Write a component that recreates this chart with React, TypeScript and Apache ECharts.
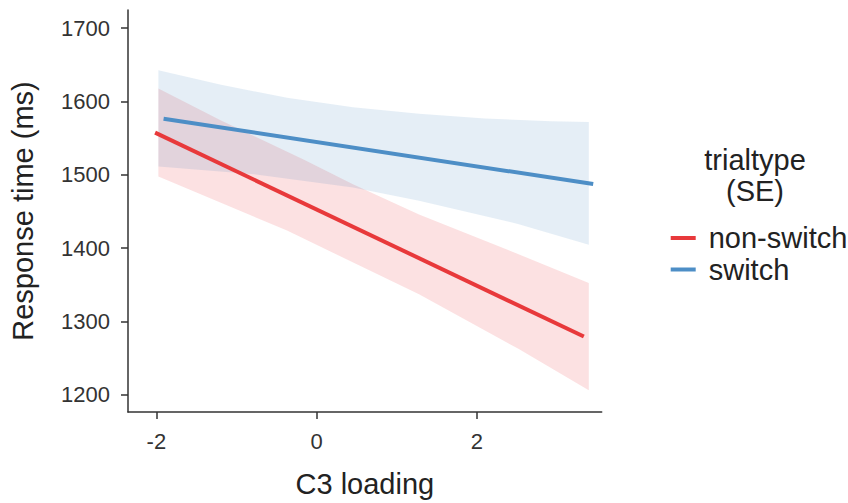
import React, { useEffect, useRef } from "react";
import * as echarts from "echarts";

// Fitted lines (x = C3 loading, y = response time ms)
const nonSwitchLineX = [-2.016, 3.333];
const nonSwitchLineY = [1557.5, 1279.4];
const switchLineX = [-1.91, 3.45];
const switchLineY = [1576.5, 1487.4];

// SE ribbons (upper and lower edges)
const nonSwitchUpperX = [-1.975, -1.193, -0.164, 0.453, 1.277, 2.511, 3.395];
const nonSwitchUpperY = [1617.6, 1574.0, 1521.0, 1487.0, 1446.0, 1392.0, 1352.6];
const nonSwitchLowerX = [-1.975, -0.37, 1.277, 2.511, 3.395];
const nonSwitchLowerY = [1497.8, 1424.0, 1337.0, 1263.0, 1206.0];

const switchUpperX = [-1.975, -1.193, -0.37, 0.453, 1.277, 2.099, 2.922, 3.395];
const switchUpperY = [1642.5, 1623.0, 1605.0, 1592.2, 1583.3, 1576.9, 1573.2, 1571.9];
const switchLowerX = [-1.975, -0.781, 0.453, 1.277, 2.511, 3.395];
const switchLowerY = [1511.3, 1500.9, 1482.8, 1464.7, 1433.0, 1404.5];

const xTicks = [-2, 0, 2];
const yTicks = [1200, 1300, 1400, 1500, 1600, 1700];
const seriesNames = ["non-switch", "switch"];

const RED = "#E8393B";
const BLUE = "#4D8EC6";
const FONT = "Liberation Sans, Arial, sans-serif";
const AXIS_COLOR = "#333333";

function bandSeries(
  name: string,
  ux: number[],
  uy: number[],
  lx: number[],
  ly: number[],
  fill: string
) {
  return {
    type: "custom",
    name,
    silent: true,
    z: 1,
    data: [[ux[0], uy[0]]],
    renderItem: (_params: any, api: any) => {
      const pts: number[][] = [];
      for (let i = 0; i < ux.length; i++) pts.push(api.coord([ux[i], uy[i]]));
      for (let i = lx.length - 1; i >= 0; i--) pts.push(api.coord([lx[i], ly[i]]));
      return {
        type: "polygon",
        shape: { points: pts },
        style: { fill, stroke: "none" },
      };
    },
  };
}

export default function App() {
  const ref = useRef<HTMLDivElement>(null);

  useEffect(() => {
    if (!ref.current) return;
    const chart = echarts.init(ref.current, null, { renderer: "svg" });
    const option: any = {
      animation: false,
      backgroundColor: "#ffffff",
      textStyle: { fontFamily: FONT },
      grid: { left: 123, right: 246.3, top: 10, bottom: 89, containLabel: false },
      xAxis: {
        type: "value",
        min: -2.354,
        max: 3.556,
        name: "C3 loading",
        nameLocation: "middle",
        nameGap: 57,
        nameTextStyle: { fontSize: 29, color: "#222222", fontFamily: FONT },
        axisLine: { show: true, onZero: false, lineStyle: { color: AXIS_COLOR, width: 1.5 } },
        axisTick: { show: true, length: 7, lineStyle: { color: AXIS_COLOR, width: 1.5 }, customValues: xTicks },
        axisLabel: {
          fontSize: 22,
          color: "#333333",
          margin: 18,
          customValues: xTicks,
          fontFamily: FONT,
          formatter: (v: number) => String(v),
        },
        splitLine: { show: false },
      },
      yAxis: {
        type: "value",
        min: 1176.5,
        max: 1724.8,
        name: "Response time (ms)",
        nameLocation: "middle",
        nameGap: 91,
        nameRotate: 90,
        nameTextStyle: { fontSize: 29, color: "#222222", fontFamily: FONT },
        axisLine: { show: true, onZero: false, lineStyle: { color: AXIS_COLOR, width: 1.5 } },
        axisTick: { show: true, length: 7, lineStyle: { color: AXIS_COLOR, width: 1.5 }, customValues: yTicks },
        axisLabel: {
          fontSize: 22,
          color: "#333333",
          margin: 18,
          customValues: yTicks,
          fontFamily: FONT,
          formatter: (v: number) => String(v),
        },
        splitLine: { show: false },
      },
      legend: {
        data: seriesNames,
        orient: "vertical",
        left: 665.7,
        top: 218.5,
        icon: "rect",
        itemWidth: 25,
        itemHeight: 4,
        itemGap: 2.5,
        selectedMode: false,
        textStyle: {
          fontSize: 29,
          lineHeight: 29,
          color: "#222222",
          fontFamily: FONT,
          padding: [0, 0, 0, 8],
        },
      },
      graphic: [
        {
          type: "text",
          x: 755,
          y: 160,
          style: {
            text: "trialtype",
            fontSize: 29,
            fontFamily: FONT,
            fill: "#222222",
            align: "center",
            verticalAlign: "middle",
          },
        },
        {
          type: "text",
          x: 755,
          y: 191,
          style: {
            text: "(SE)",
            fontSize: 29,
            fontFamily: FONT,
            fill: "#222222",
            align: "center",
            verticalAlign: "middle",
          },
        },
      ],
      series: [
        bandSeries(
          "non-switch band",
          nonSwitchUpperX,
          nonSwitchUpperY,
          nonSwitchLowerX,
          nonSwitchLowerY,
          "rgba(228,26,28,0.13)"
        ),
        bandSeries(
          "switch band",
          switchUpperX,
          switchUpperY,
          switchLowerX,
          switchLowerY,
          "rgba(55,126,184,0.13)"
        ),
        {
          type: "line",
          name: seriesNames[0],
          z: 3,
          showSymbol: false,
          symbol: "none",
          color: RED,
          itemStyle: { color: RED },
          lineStyle: { color: RED, width: 4 },
          data: nonSwitchLineX.map((x, i) => [x, nonSwitchLineY[i]]),
        },
        {
          type: "line",
          name: seriesNames[1],
          z: 3,
          showSymbol: false,
          symbol: "none",
          color: BLUE,
          itemStyle: { color: BLUE },
          lineStyle: { color: BLUE, width: 4 },
          data: switchLineX.map((x, i) => [x, switchLineY[i]]),
        },
      ],
    };
    chart.setOption(option);
    return () => chart.dispose();
  }, []);

  return (
    <div
      ref={ref}
      style={{ position: "fixed", left: 0, top: 0, width: 848, height: 503, background: "#fff" }}
    />
  );
}
